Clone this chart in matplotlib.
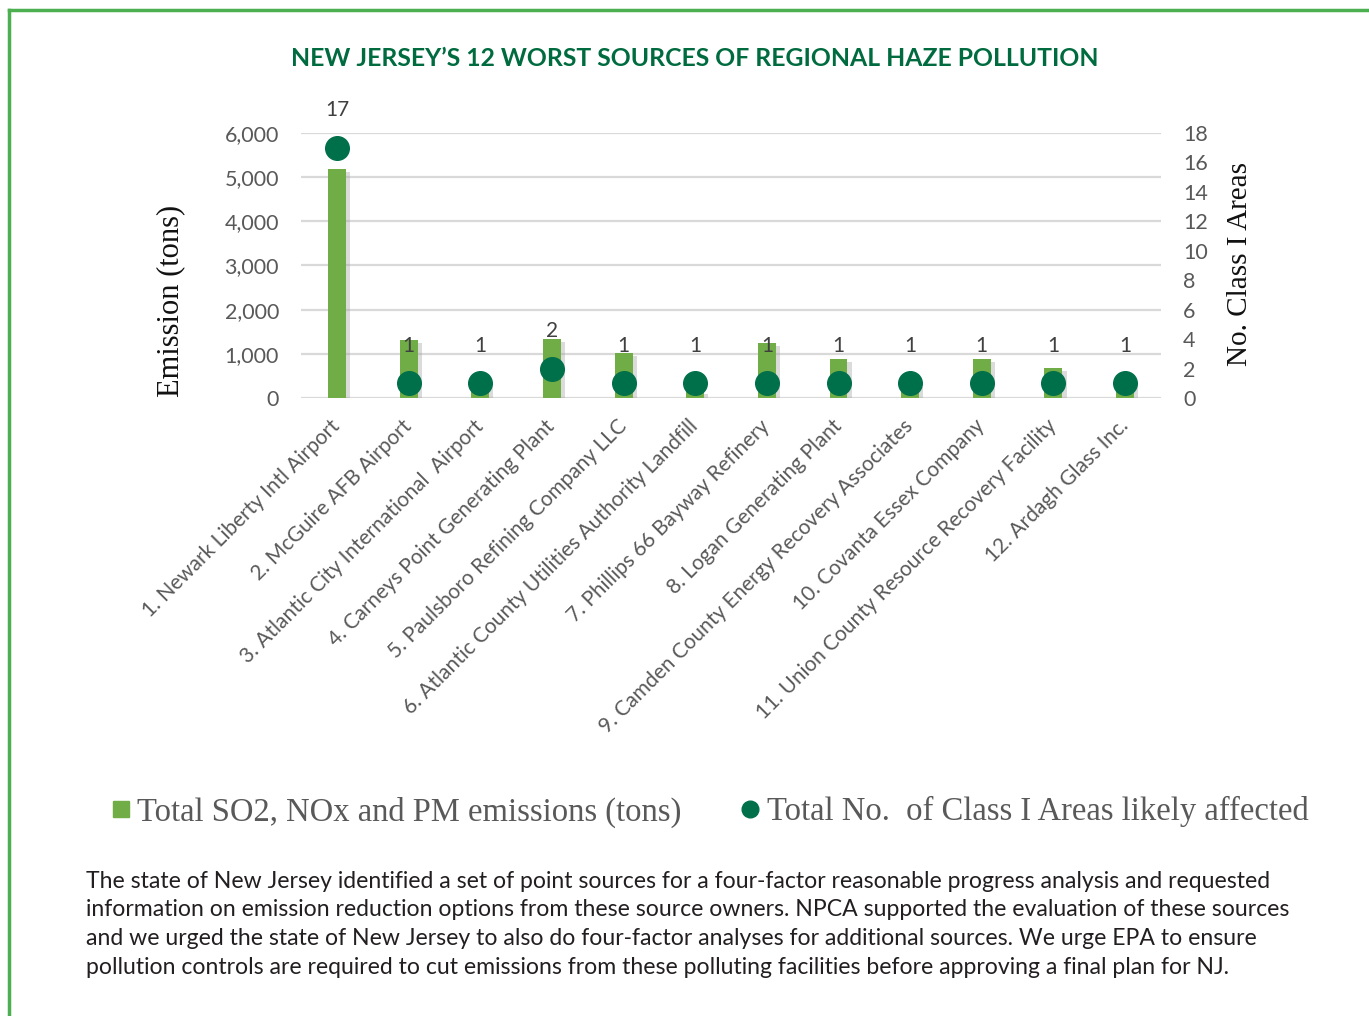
#!/usr/bin/env python3

import matplotlib
matplotlib.use("Agg")
import matplotlib.pyplot as plt
import matplotlib.patheffects as pe
from matplotlib.lines import Line2D
from matplotlib.ticker import FuncFormatter

sources = [
    "1. Newark Liberty Intl Airport",
    "2. McGuire AFB Airport",
    "3. Atlantic City International  Airport",
    "4. Carneys Point Generating Plant",
    "5. Paulsboro Refining Company LLC",
    "6. Atlantic County Utilities Authority Landfill",
    "7. Phillips 66 Bayway Refinery",
    "8. Logan Generating Plant",
    "9. Camden County Energy Recovery Associates",
    "10. Covanta Essex Company",
    "11. Union County Resource Recovery Facility",
    "12. Ardagh Glass Inc.",
]
emissions = [5180, 1310, 390, 1330, 1010, 160, 1250, 880, 320, 880, 680, 400]
class_areas = [17, 1, 1, 2, 1, 1, 1, 1, 1, 1, 1, 1]

bar_green = "#70AD47"
dot_green = "#00704A"
gray_txt = "#595959"

plt.rcParams["font.family"] = ["Lato", "DejaVu Sans"]

fig = plt.figure(figsize=(13.69, 10.16), dpi=100)
ax = fig.add_axes([0.22, 0.6083, 0.628, 0.2608])
ax2 = ax.twinx()

x = list(range(len(sources)))
bars = ax.bar(x, emissions, width=0.25, color=bar_green, zorder=2)
for b in bars:
    b.set_path_effects([pe.SimplePatchShadow(offset=(3, -2), shadow_rgbFace="#9a9a9a", alpha=0.35),
                        pe.Normal()])

ax.set_ylim(0, 6000)
ax.set_xlim(-0.5, len(sources) - 0.5)
ax.set_yticks(range(0, 6001, 1000))
ax.yaxis.set_major_formatter(FuncFormatter(lambda v, p: f"{int(v):,}"))
ax.grid(axis="y", color="#D9D9D9", linewidth=1.6, zorder=0)
ax.set_axisbelow(True)

ax2.plot(x, class_areas, "o", color=dot_green, markersize=17, zorder=3)
ax2.set_ylim(0, 18)
ax2.set_yticks(range(0, 19, 2))
for xi, v in zip(x, class_areas):
    ax2.annotate(str(v), (xi, v), xytext=(0, 27), textcoords="offset points",
                 ha="center", va="center", fontsize=15, color="#404040")

for a in (ax, ax2):
    for s in a.spines.values():
        s.set_visible(False)
    a.tick_params(axis="y", length=0, labelsize=15.5, labelcolor=gray_txt)
ax.tick_params(axis="y", pad=16)
ax2.tick_params(axis="y", pad=16)

ax.set_xticks(x)
ax.set_xticklabels(sources, rotation=45, ha="right", va="center", rotation_mode="anchor",
                   fontsize=15, color=gray_txt)
ax.tick_params(axis="x", length=0, pad=18)

ax.set_ylabel("Emission (tons)", family="Liberation Serif", fontsize=22, color="#111111")
ax.yaxis.set_label_coords(-0.135, 0.366)
ax2.set_ylabel("No. Class I Areas", family="Liberation Serif", fontsize=21, color="#111111")
ax2.yaxis.set_label_coords(1.077, 0.506)

fig.text(694.5 / 1369, 1 - 58 / 1016, "NEW JERSEY\u2019S 12 WORST SOURCES OF REGIONAL HAZE POLLUTION",
         ha="center", va="center", fontsize=17.8, fontweight="bold", color="#006B3F")

handles = [Line2D([], [], marker="s", ls="none", color=bar_green, markersize=12),
           Line2D([], [], marker="o", ls="none", color=dot_green, markersize=12)]
leg = fig.legend(handles, ["Total SO2, NOx and PM emissions (tons)",
                           "Total No.  of Class I Areas likely affected"],
                 loc="center", bbox_to_anchor=(709 / 1369, 1 - 812 / 1016), ncol=2, frameon=False,
                 prop={"family": "Liberation Serif", "size": 23.5}, labelcolor=gray_txt,
                 handletextpad=0.15, columnspacing=1.75, handlelength=0.7)

body = [
    "The state of New Jersey identified a set of point sources for a four-factor reasonable progress analysis and requested",
    "information on emission reduction options from these source owners. NPCA supported the evaluation of these sources",
    "and we urged the state of New Jersey to also do four-factor analyses for additional sources. We urge EPA to ensure",
    "pollution controls are required to cut emissions from these polluting facilities before approving a final plan for NJ.",
]
for i, line in enumerate(body):
    fig.text(86 / 1369, 1 - (881 + 28.7 * i) / 1016, line, ha="left", va="center",
             fontsize=16.6, color="#231F20")

# green frame (top and left edges visible)
fig.add_artist(Line2D([9 / 1369, 9 / 1369], [0, 1 - 10 / 1016], color="#4CAF50", linewidth=2.5))
fig.add_artist(Line2D([9 / 1369, 1], [1 - 10 / 1016, 1 - 10 / 1016], color="#4CAF50", linewidth=2.5))

fig.savefig("out.png", dpi=100)
